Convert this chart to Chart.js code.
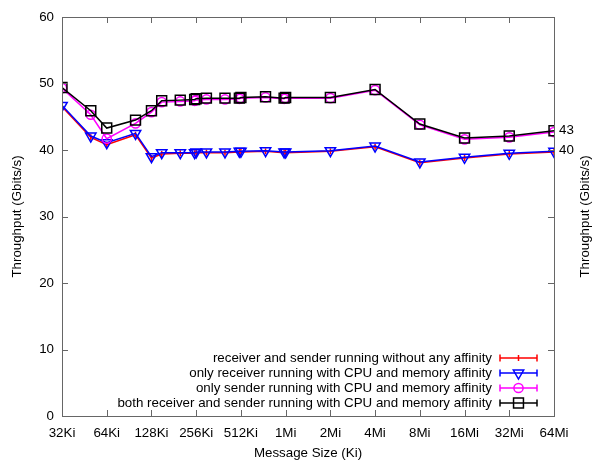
<!DOCTYPE html>
<html>
<head>
<meta charset="utf-8">
<script src="https://cdn.jsdelivr.net/npm/chart.js@4.4.0/dist/chart.umd.min.js"></script>
<style>
  html, body { margin: 0; padding: 0; background: #fff; }
</style>
</head>
<body>
<canvas id="chart" width="596" height="461"></canvas>
<script>
// message sizes in Ki
const sizesKi = [32, 50, 64, 100, 128, 150, 200, 250, 256, 300, 400, 500, 512, 750, 1000, 1024, 2048, 4096, 8192, 16384, 32768, 65536];

const noAffinity = [46.5, 41.9, 40.8, 42.3, 38.8, 39.4, 39.5, 39.5, 39.6, 39.6, 39.6, 39.7, 39.7, 39.8, 39.6, 39.6, 39.8, 40.5, 38.1, 38.8, 39.4, 39.7];
const receiverAffinity = [46.7, 42.1, 41.1, 42.5, 39.0, 39.6, 39.6, 39.6, 39.7, 39.7, 39.7, 39.8, 39.8, 39.9, 39.7, 39.7, 39.9, 40.6, 38.2, 38.9, 39.5, 39.8];
const senderAffinity = [49.3, 45.3, 41.7, 44.0, 45.7, 47.2, 47.3, 47.4, 47.5, 47.6, 47.6, 47.7, 47.8, 47.9, 47.7, 47.8, 47.8, 49.0, 43.8, 41.6, 41.9, 42.7];
const bothAffinity = [49.4, 45.9, 43.3, 44.5, 45.9, 47.4, 47.5, 47.6, 47.7, 47.8, 47.8, 47.8, 47.9, 48.0, 47.8, 47.9, 47.9, 49.1, 43.9, 41.8, 42.1, 42.9];

const seriesLabels = [
    'receiver and sender running without any affinity',
    'only receiver running with CPU and memory affinity',
    'only sender running with CPU and memory affinity',
    'both receiver and sender running with CPU and memory affinity'
];

const xTickValues = [32, 64, 128, 256, 512, 1024, 2048, 4096, 8192, 16384, 32768, 65536];
const xTickLabels = ['32Ki', '64Ki', '128Ki', '256Ki', '512Ki', '1Mi', '2Mi', '4Mi', '8Mi', '16Mi', '32Mi', '64Mi'];
const yTickValues = [0, 10, 20, 30, 40, 50, 60];
const rightTickValues = [40, 43];

const FONT = 'Liberation Sans, Arial, sans-serif';
const FONT_SIZE = 13.33;
const AXIS_COLOR = '#666';

const toPoints = (values) => values.map((v, i) => ({ x: sizesKi[i], y: v }));

// frame, inward ticks, right axis title and the in-plot key
const gnuplotFrame = {
    id: 'gnuplotFrame',
    afterDraw(chart) {
        const { ctx, chartArea: a, scales } = chart;
        ctx.save();
        ctx.strokeStyle = AXIS_COLOR;
        ctx.lineWidth = 1;
        ctx.strokeRect(a.left + 0.5, a.top + 0.5, a.right - a.left, a.bottom - a.top);

        ctx.beginPath();
        xTickValues.forEach(v => {
            const px = Math.round(scales.x.getPixelForValue(v)) + 0.5;
            ctx.moveTo(px, a.bottom); ctx.lineTo(px, a.bottom - 6);
            ctx.moveTo(px, a.top); ctx.lineTo(px, a.top + 6);
        });
        yTickValues.forEach(v => {
            const py = Math.round(scales.y.getPixelForValue(v)) + 0.5;
            ctx.moveTo(a.left, py); ctx.lineTo(a.left + 6, py);
            ctx.moveTo(a.right, py); ctx.lineTo(a.right - 6, py);
        });
        ctx.stroke();

        // right axis title, reads bottom to top
        ctx.fillStyle = '#000';
        ctx.font = FONT_SIZE + 'px ' + FONT;
        ctx.textAlign = 'center';
        ctx.textBaseline = 'middle';
        ctx.translate(585, (a.top + a.bottom) / 2);
        ctx.rotate(-Math.PI / 2);
        ctx.fillText('Throughput (Gbits/s)', 0, 0);
        ctx.setTransform(1, 0, 0, 1, 0, 0);

        // key
        const sampleEnd = a.right - 17;
        const sampleStart = sampleEnd - 37;
        const textRight = sampleStart - 8;
        chart.data.datasets.forEach((ds, i) => {
            const y = a.bottom - 13 - 15 * (chart.data.datasets.length - 1 - i);
            ctx.fillStyle = '#000';
            ctx.textAlign = 'right';
            ctx.fillText(ds.label, textRight, y);
            ctx.strokeStyle = ds.borderColor;
            ctx.lineWidth = 1.5;
            ctx.beginPath();
            ctx.moveTo(sampleStart, y); ctx.lineTo(sampleEnd, y);
            ctx.moveTo(sampleStart, y - 3.5); ctx.lineTo(sampleStart, y + 3.5);
            ctx.moveTo(sampleEnd, y - 3.5); ctx.lineTo(sampleEnd, y + 3.5);
            ctx.stroke();
            ctx.fillStyle = 'rgba(0,0,0,0)';
            Chart.helpers.drawPoint(ctx, {
                pointStyle: ds.pointStyle,
                radius: ds.pointRadius,
                rotation: ds.pointRotation || 0,
                borderWidth: 1.5
            }, (sampleStart + sampleEnd) / 2, y);
        });
        ctx.restore();
    }
};

const baseSet = {
    borderWidth: 1.5,
    pointBorderWidth: 1.5,
    pointBackgroundColor: 'rgba(0,0,0,0)',
    tension: 0
};

new Chart(document.getElementById('chart'), {
    type: 'line',
    data: {
        datasets: [
            { ...baseSet, label: seriesLabels[0], data: toPoints(noAffinity), borderColor: '#ff0000', pointBorderColor: '#ff0000',
              pointStyle: 'line', pointRadius: 3, pointRotation: 90, order: 4 },
            { ...baseSet, label: seriesLabels[1], data: toPoints(receiverAffinity), borderColor: '#0000ff', pointBorderColor: '#0000ff',
              pointStyle: 'triangle', pointRadius: 6, pointRotation: 180, order: 3 },
            { ...baseSet, label: seriesLabels[2], data: toPoints(senderAffinity), borderColor: '#ff00ff', pointBorderColor: '#ff00ff',
              pointStyle: 'circle', pointRadius: 4.6, order: 2 },
            { ...baseSet, label: seriesLabels[3], data: toPoints(bothAffinity), borderColor: '#000000', pointBorderColor: '#000000',
              pointStyle: 'rect', pointRadius: 7, order: 1 }
        ]
    },
    options: {
        responsive: false,
        animation: false,
        devicePixelRatio: 1,
        layout: { padding: { top: 17, left: 0, right: 0, bottom: 0 } },
        plugins: {
            legend: { display: false },
            tooltip: { enabled: false }
        },
        scales: {
            x: {
                type: 'logarithmic',
                min: 32,
                max: 65536,
                afterBuildTicks: (scale) => { scale.ticks = xTickValues.map(v => ({ value: v })); },
                afterFit: (scale) => { scale.height = 45; },
                grid: { display: false, drawTicks: false },
                border: { display: false },
                ticks: {
                    autoSkip: false,
                    maxRotation: 0,
                    padding: 9,
                    color: '#000',
                    font: { family: FONT, size: FONT_SIZE },
                    callback: (v, i) => xTickLabels[i]
                },
                title: {
                    display: true,
                    text: 'Message Size (Ki)',
                    color: '#000',
                    font: { family: FONT, size: FONT_SIZE },
                    padding: { top: 0, bottom: 0 }
                }
            },
            y: {
                position: 'left',
                min: 0,
                max: 60,
                afterBuildTicks: (scale) => { scale.ticks = yTickValues.map(v => ({ value: v })); },
                afterFit: (scale) => { scale.width = 62; },
                grid: { display: false, drawTicks: false },
                border: { display: false },
                ticks: {
                    padding: 8,
                    color: '#000',
                    font: { family: FONT, size: FONT_SIZE }
                },
                title: {
                    display: true,
                    text: 'Throughput (Gbits/s)',
                    color: '#000',
                    font: { family: FONT, size: FONT_SIZE },
                    padding: { top: 9, bottom: 0 }
                }
            },
            y2: {
                position: 'right',
                min: 0,
                max: 60,
                afterBuildTicks: (scale) => { scale.ticks = rightTickValues.map(v => ({ value: v })); },
                afterFit: (scale) => { scale.width = 42; },
                grid: { display: false, drawTicks: false },
                border: { display: false },
                ticks: {
                    padding: 5,
                    color: '#000',
                    font: { family: FONT, size: FONT_SIZE }
                }
            }
        }
    },
    plugins: [gnuplotFrame]
});
</script>
</body>
</html>
